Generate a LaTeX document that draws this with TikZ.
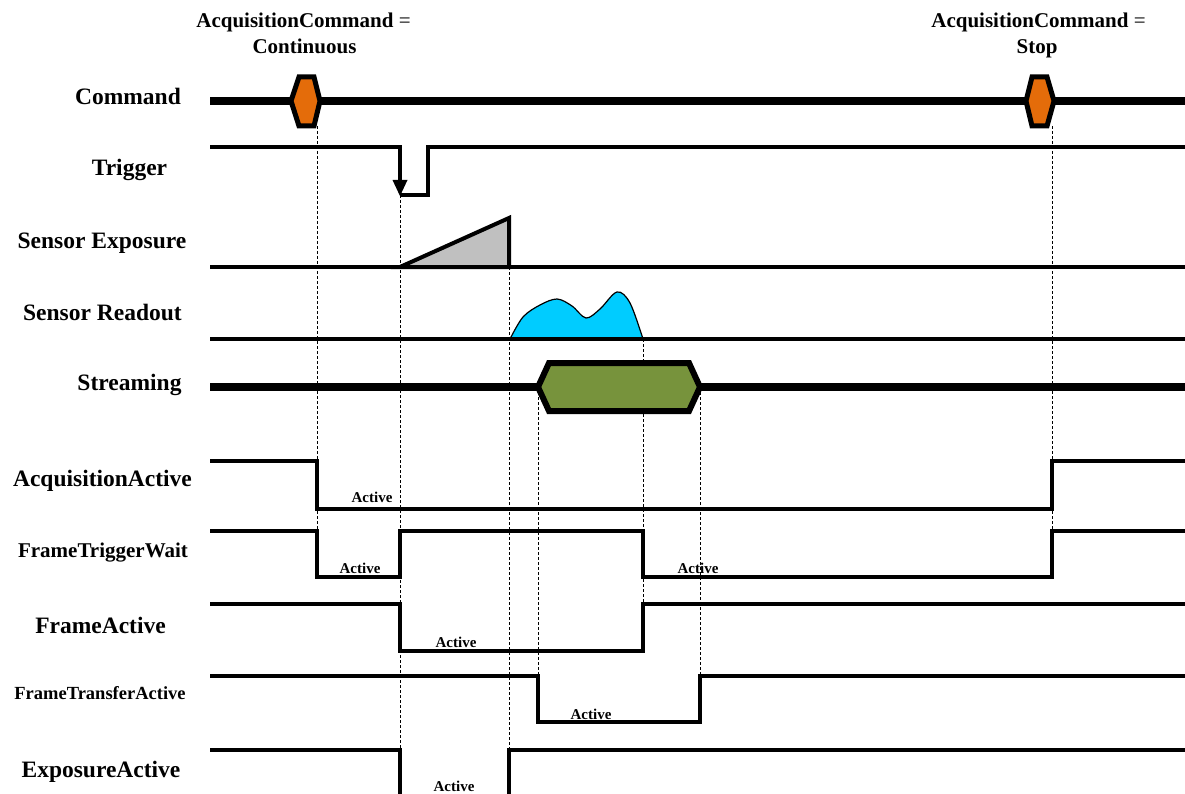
\documentclass[tikz,border=0pt]{standalone}
\usepackage{fontspec}
\setmainfont{Liberation Serif}
\definecolor{cmdorange}{HTML}{E46C0A}
\definecolor{streamgreen}{HTML}{77933C}
\definecolor{readblue}{HTML}{00CCFF}
\definecolor{expgray}{HTML}{C0C0C0}
\begin{document}
\begin{tikzpicture}[x=1pt,y=-1pt,
  sig/.style={line width=4pt, line join=miter},
  bus/.style={line width=7.5pt},
  guide/.style={line width=0.9pt, dash pattern=on 3pt off 2pt},
  lab/.style={font=\fontsize{23.5}{26}\selectfont\bfseries, anchor=base, inner sep=0pt},
  labs/.style={font=\fontsize{21}{24}\selectfont\bfseries, anchor=base, inner sep=0pt},
  labxs/.style={font=\fontsize{18.5}{21}\selectfont\bfseries, anchor=base, inner sep=0pt},
  ttl/.style={font=\fontsize{21}{24}\selectfont\bfseries, anchor=base, inner sep=0pt},
  act/.style={font=\fontsize{15}{17}\selectfont\bfseries, anchor=base, inner sep=0pt},
  hexcmd/.style={line width=5pt, fill=cmdorange, line join=miter},
  hexstream/.style={line width=6pt, fill=streamgreen, line join=miter}
]
\useasboundingbox (0,0) rectangle (1185,794);

% titles
\node[ttl] (t1a) at (303.5,28) {AcquisitionCommand \textmd{=}};
\node[ttl] (t1b) at (304.5,54) {Continuous};
\node[ttl] (t2a) at (1038.5,28) {AcquisitionCommand \textmd{=}};
\node[ttl] (t2b) at (1037,54) {Stop};

% row labels
\node[lab] (lcmd) at (128,105) {Command};
\node[lab] (ltrig) at (129.5,176) {Trigger};
\node[lab] (lexp) at (102,248) {Sensor Exposure};
\node[lab] (lread) at (102.5,320) {Sensor Readout};
\node[lab] (lstream) at (129.5,390) {Streaming};
\node[lab] (lacq) at (102.5,486) {AcquisitionActive};
\node[labs] (lftw) at (103,557) {FrameTriggerWait};
\node[lab] (lfa) at (100.5,633) {FrameActive};
\node[labxs] (lfta) at (100,699) {FrameTransferActive};
\node[lab] (lea) at (101,777) {ExposureActive};

% guide lines
\draw[guide] (317,126) -- (317,530);
\draw[guide] (1052,126) -- (1052,530);
\draw[guide] (400,195) -- (400,750);
\draw[guide] (509,267) -- (509,750);
\draw[guide] (538,387) -- (538,676);
\draw[guide] (643,339) -- (643,604);
\draw[guide] (700,387) -- (700,676);

% Command
\draw[bus] (210,101) -- (1185,101);
\draw[hexcmd] (291,101) -- (299,77) -- (314,77) -- (320,101) -- (314,126) -- (299,126) -- cycle;
\draw[hexcmd] (1026,101) -- (1032,77) -- (1047,77) -- (1054,101) -- (1047,126) -- (1032,126) -- cycle;

% Trigger
\draw[sig] (210,147) -- (400,147) -- (400,182);
\fill (392.5,180) -- (407.5,180) -- (400,196) -- cycle;
\draw[sig] (400,195) -- (428,195) -- (428,147) -- (1185,147);

% Sensor exposure
\draw[sig] (210,267) -- (1185,267);
\draw[sig, fill=expgray] (400,267) -- (509,218) -- (509,267) -- cycle;

% Sensor readout
\filldraw[line width=1.2pt, fill=readblue] plot[smooth, tension=0.55] coordinates {(510,339) (523,317) (540,305) (557,299) (572,306) (586,318) (600,309) (617,292) (630,303) (643,339)} -- cycle;
\draw[sig] (210,339) -- (1185,339);

% Streaming
\draw[bus] (210,387) -- (1185,387);
\draw[hexstream] (538,387) -- (549,363) -- (689,363) -- (700,387) -- (689,411) -- (549,411) -- cycle;

% AcquisitionActive
\draw[sig] (210,461) -- (317,461) -- (317,509) -- (1052,509) -- (1052,461) -- (1185,461);
\node[act] (a1) at (372,502) {Active};

% FrameTriggerWait
\draw[sig] (210,531) -- (317,531) -- (317,577) -- (400,577) -- (400,531) -- (643,531) -- (643,577) -- (1052,577) -- (1052,531) -- (1185,531);
\node[act] (a2) at (360,573) {Active};
\node[act] (a3) at (698,573) {Active};

% FrameActive
\draw[sig] (210,604) -- (400,604) -- (400,651) -- (643,651) -- (643,604) -- (1185,604);
\node[act] (a4) at (456,647) {Active};

% FrameTransferActive
\draw[sig] (210,676) -- (538,676) -- (538,722) -- (700,722) -- (700,676) -- (1185,676);
\node[act] (a5) at (591,719) {Active};

% ExposureActive
\draw[sig] (210,750) -- (400,750) -- (400,800);
\draw[sig] (509,800) -- (509,750) -- (1185,750);
\node[act] (a6) at (454,791) {Active};
\end{tikzpicture}
\end{document}
